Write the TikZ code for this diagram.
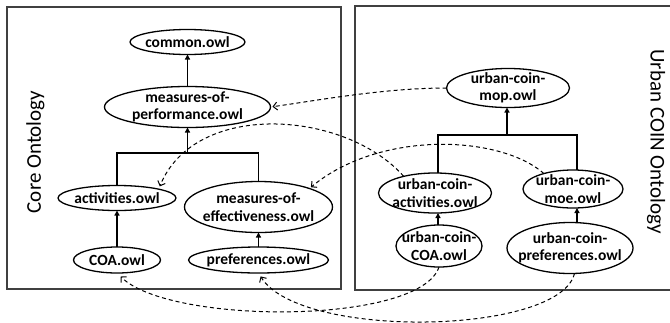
\documentclass[tikz,border=0pt]{standalone}
\usepackage{fontspec}
\setmainfont{Carlito}
\usetikzlibrary{shapes.geometric,arrows.meta}
\begin{document}
\begin{tikzpicture}[x=1pt,y=-1pt,
  ov/.style={draw=black, line width=1.3pt, ellipse, inner sep=0pt, outer sep=0pt},
  lbl/.style={font=\bfseries\fontsize{15.5}{17.5}\selectfont, align=center, inner sep=0pt},
  frame/.style={draw=black!75, line width=1.1pt},
  tree/.style={line width=1.3pt},
  solidarr/.style={line width=1.3pt, -{Triangle[length=5pt,width=5pt]}},
  dasharr/.style={dash pattern=on 4pt off 3pt, line width=1pt, -{Straight Barb[length=4pt,width=8pt]}},
  side/.style={font=\fontsize{21}{24}\selectfont, inner sep=0pt}]
\useasboundingbox (0,0) rectangle (670,322);
\fill[white] (0,0) rectangle (670,322);
% frames
\draw[frame] (7,7) rectangle (341,289);
\draw[frame] (355,6) rectangle (676,290);
\node[side, rotate=90] (core) at (35.5,152) {Core Ontology};
\node[side, rotate=-90] (urban) at (656,141.5) {Urban COIN Ontology};
% left nodes
\node[ov, minimum width=115pt, minimum height=25pt, label={[lbl]center:common.owl}] (common) at (187.5,42) {};
\node[ov, minimum width=166pt, minimum height=41pt, label={[lbl]center:measures-of-\\performance.owl}] (mop) at (187.5,107) {};
\node[ov, minimum width=118pt, minimum height=25pt, label={[lbl]center:activities.owl}] (act) at (117,198) {};
\node[ov, minimum width=148pt, minimum height=51pt, label={[lbl]center:measures-of-\\effectiveness.owl}] (moe) at (258.5,207) {};
\node[ov, minimum width=87pt, minimum height=26pt, label={[lbl]center:COA.owl}] (coa) at (117,260) {};
\node[ov, minimum width=140pt, minimum height=26pt, label={[lbl]center:preferences.owl}] (pref) at (258.5,260) {};
% right nodes
\node[ov, minimum width=123pt, minimum height=39pt, label={[lbl]center:urban-coin-\\mop.owl}] (ucmop) at (508,88) {};
\node[ov, minimum width=113pt, minimum height=40pt, label={[lbl]center:urban-coin-\\activities.owl}] (ucact) at (435,193) {};
\node[ov, minimum width=100pt, minimum height=38pt, label={[lbl]center:urban-coin-\\moe.owl}] (ucmoe) at (573,189) {};
\node[ov, minimum width=86pt, minimum height=42pt, label={[lbl]center:urban-coin-\\COA.owl}] (uccoa) at (439,246) {};
\node[ov, minimum width=126pt, minimum height=51pt, label={[lbl]center:urban-coin-\\preferences.owl}] (ucpref) at (570,248) {};
% left tree
\coordinate (lj) at (187.5,153);
\draw[solidarr] (mop) -- (common);
\draw[tree] (act.north) -- (act.north |- lj) -- (moe.north |- lj) -- (moe.north);
\draw[solidarr] (lj) -- (mop.south);
\draw[solidarr] (coa) -- (act);
\draw[solidarr] (pref) -- (moe);
% right tree
\coordinate (rl) at (438,135);
\coordinate (rr) at (577,135);
\coordinate (rm) at (507,135);
\draw[tree] (rl |- ucact.north) -- (rl) -- (rr) -- (rr |- ucmoe.north);
\draw[solidarr] (rm) -- (rm |- ucmop.south);
\draw[solidarr] (rl |- uccoa.north) -- (rl |- ucact.south);
\draw[solidarr] (rr |- ucpref.north) -- (rr |- ucmoe.south);
% dashed cross links
\draw[dasharr, shorten >=2pt] (ucmop.west) .. controls (385,88) and (320,100) .. (mop.east);
\draw[dasharr, shorten >=3pt] (ucact.152) .. controls (345,110) and (195,100) .. (act.12);
\draw[dasharr, shorten >=2pt] (ucmoe.152) .. controls (500,135) and (380,130) .. (moe.20);
\draw[dasharr, shorten >=5pt] (uccoa.south) .. controls (420,325) and (170,325) .. (coa.south);
\draw[dasharr, shorten >=4pt] (ucpref.-80) .. controls (560,335) and (300,340) .. (pref.south);
\end{tikzpicture}
\end{document}
